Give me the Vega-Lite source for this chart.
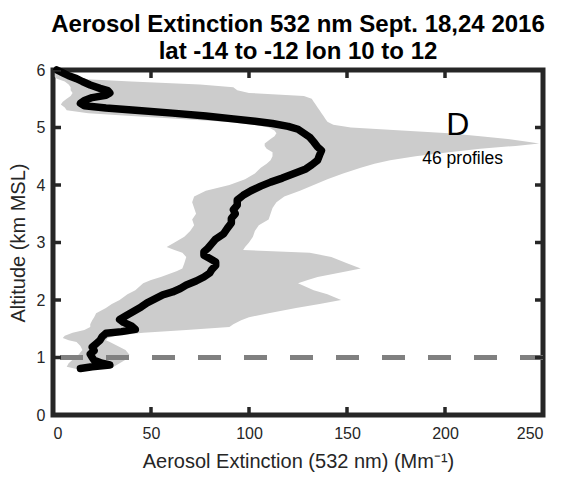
{
  "$schema": "https://vega.github.io/schema/vega-lite/v6.json",
  "width": 490,
  "height": 345,
  "autosize": "none",
  "padding": {"left": 53, "top": 70, "right": 19, "bottom": 65},
  "background": "white",
  "title": {
    "text": ["Aerosol Extinction 532 nm Sept. 18,24 2016", "lat -14 to -12 lon 10 to 12"],
    "font": "Liberation Sans",
    "fontSize": 24,
    "fontWeight": "bold",
    "color": "#000000",
    "lineHeight": 27,
    "offset": -2,
    "anchor": "middle"
  },
  "config": {
    "view": {"stroke": "#262626", "strokeWidth": 5},
    "axis": {
      "domain": false,
      "grid": false,
      "ticks": false,
      "labelFont": "Liberation Sans",
      "labelFontSize": 16,
      "labelColor": "#262626",
      "titleFont": "Liberation Sans",
      "titleFontSize": 20,
      "titleFontWeight": "normal",
      "titleColor": "#262626"
    }
  },
  "datasets": {
    "xticks": [{"v": 0}, {"v": 50}, {"v": 100}, {"v": 150}, {"v": 200}, {"v": 250}],
    "yticks": [{"v": 0}, {"v": 1}, {"v": 2}, {"v": 3}, {"v": 4}, {"v": 5}, {"v": 6}],
    "band": [
      {"alt": 6.00, "lo": 0, "hi": 5},
      {"alt": 5.95, "lo": 0, "hi": 7},
      {"alt": 5.90, "lo": 0, "hi": 9},
      {"alt": 5.85, "lo": 2, "hi": 12},
      {"alt": 5.80, "lo": 6, "hi": 40},
      {"alt": 5.75, "lo": 8, "hi": 75},
      {"alt": 5.70, "lo": 9, "hi": 92},
      {"alt": 5.65, "lo": 9, "hi": 94},
      {"alt": 5.60, "lo": 10, "hi": 100},
      {"alt": 5.55, "lo": 9, "hi": 128},
      {"alt": 5.50, "lo": 7, "hi": 132},
      {"alt": 5.45, "lo": 5, "hi": 133},
      {"alt": 5.40, "lo": 4, "hi": 134},
      {"alt": 5.35, "lo": 6, "hi": 135},
      {"alt": 5.30, "lo": 7, "hi": 136},
      {"alt": 5.25, "lo": 18, "hi": 137},
      {"alt": 5.20, "lo": 40, "hi": 138},
      {"alt": 5.15, "lo": 65, "hi": 139},
      {"alt": 5.10, "lo": 88, "hi": 140},
      {"alt": 5.05, "lo": 102, "hi": 143},
      {"alt": 5.00, "lo": 110, "hi": 152},
      {"alt": 4.95, "lo": 113, "hi": 178},
      {"alt": 4.90, "lo": 114, "hi": 202},
      {"alt": 4.85, "lo": 113, "hi": 218},
      {"alt": 4.80, "lo": 111, "hi": 232},
      {"alt": 4.75, "lo": 109, "hi": 243},
      {"alt": 4.72, "lo": 108, "hi": 248},
      {"alt": 4.68, "lo": 108, "hi": 236},
      {"alt": 4.63, "lo": 109, "hi": 218},
      {"alt": 4.57, "lo": 112, "hi": 202},
      {"alt": 4.50, "lo": 112, "hi": 185},
      {"alt": 4.43, "lo": 111, "hi": 172},
      {"alt": 4.37, "lo": 109, "hi": 164},
      {"alt": 4.30, "lo": 106, "hi": 157},
      {"alt": 4.20, "lo": 103, "hi": 148},
      {"alt": 4.10, "lo": 98, "hi": 140},
      {"alt": 4.00, "lo": 90, "hi": 133},
      {"alt": 3.90, "lo": 78, "hi": 126},
      {"alt": 3.80, "lo": 72, "hi": 118},
      {"alt": 3.70, "lo": 71, "hi": 114},
      {"alt": 3.60, "lo": 72, "hi": 112},
      {"alt": 3.50, "lo": 73, "hi": 111},
      {"alt": 3.40, "lo": 71, "hi": 110},
      {"alt": 3.30, "lo": 72, "hi": 105},
      {"alt": 3.20, "lo": 70, "hi": 103},
      {"alt": 3.10, "lo": 67, "hi": 102},
      {"alt": 3.00, "lo": 62, "hi": 100},
      {"alt": 2.92, "lo": 58, "hi": 98},
      {"alt": 2.87, "lo": 62, "hi": 97},
      {"alt": 2.82, "lo": 66, "hi": 131},
      {"alt": 2.75, "lo": 68, "hi": 142},
      {"alt": 2.64, "lo": 67, "hi": 150},
      {"alt": 2.55, "lo": 66, "hi": 157},
      {"alt": 2.50, "lo": 63, "hi": 150},
      {"alt": 2.40, "lo": 55, "hi": 135},
      {"alt": 2.35, "lo": 50, "hi": 130},
      {"alt": 2.29, "lo": 46, "hi": 125},
      {"alt": 2.17, "lo": 42, "hi": 133},
      {"alt": 2.10, "lo": 38, "hi": 140},
      {"alt": 2.00, "lo": 34, "hi": 147},
      {"alt": 1.93, "lo": 30, "hi": 136},
      {"alt": 1.86, "lo": 27, "hi": 124},
      {"alt": 1.77, "lo": 22, "hi": 110},
      {"alt": 1.70, "lo": 21, "hi": 100},
      {"alt": 1.65, "lo": 20, "hi": 96},
      {"alt": 1.58, "lo": 19, "hi": 92},
      {"alt": 1.53, "lo": 19, "hi": 90},
      {"alt": 1.48, "lo": 16, "hi": 68},
      {"alt": 1.43, "lo": 10, "hi": 46},
      {"alt": 1.38, "lo": 6, "hi": 32},
      {"alt": 1.34, "lo": 5, "hi": 28},
      {"alt": 1.30, "lo": 8, "hi": 27},
      {"alt": 1.27, "lo": 12, "hi": 29},
      {"alt": 1.20, "lo": 14, "hi": 33},
      {"alt": 1.13, "lo": 15, "hi": 37},
      {"alt": 1.05, "lo": 13, "hi": 39},
      {"alt": 0.96, "lo": 10, "hi": 37},
      {"alt": 0.90, "lo": 8, "hi": 34},
      {"alt": 0.84, "lo": 7, "hi": 31},
      {"alt": 0.80, "lo": 12, "hi": 25}
    ],
    "mean": [
      {"alt": 6.00, "ext": 2},
      {"alt": 5.95, "ext": 5},
      {"alt": 5.90, "ext": 8},
      {"alt": 5.85, "ext": 12},
      {"alt": 5.80, "ext": 15},
      {"alt": 5.74, "ext": 19},
      {"alt": 5.68, "ext": 24},
      {"alt": 5.64, "ext": 28},
      {"alt": 5.60, "ext": 29},
      {"alt": 5.56, "ext": 27},
      {"alt": 5.52, "ext": 20},
      {"alt": 5.47, "ext": 16},
      {"alt": 5.42, "ext": 14},
      {"alt": 5.38, "ext": 16},
      {"alt": 5.34, "ext": 27},
      {"alt": 5.30, "ext": 42},
      {"alt": 5.25, "ext": 61},
      {"alt": 5.20, "ext": 78},
      {"alt": 5.15, "ext": 92},
      {"alt": 5.11, "ext": 103},
      {"alt": 5.07, "ext": 112},
      {"alt": 5.02, "ext": 120},
      {"alt": 4.97, "ext": 125},
      {"alt": 4.90, "ext": 128},
      {"alt": 4.83, "ext": 131},
      {"alt": 4.75, "ext": 133},
      {"alt": 4.66, "ext": 135},
      {"alt": 4.60, "ext": 137},
      {"alt": 4.52, "ext": 136},
      {"alt": 4.43, "ext": 135},
      {"alt": 4.35, "ext": 132},
      {"alt": 4.28, "ext": 129},
      {"alt": 4.20, "ext": 123},
      {"alt": 4.12, "ext": 117},
      {"alt": 4.05, "ext": 111},
      {"alt": 3.98, "ext": 106},
      {"alt": 3.90, "ext": 101},
      {"alt": 3.82, "ext": 97},
      {"alt": 3.74, "ext": 94},
      {"alt": 3.65, "ext": 94},
      {"alt": 3.57, "ext": 92},
      {"alt": 3.50, "ext": 93},
      {"alt": 3.42, "ext": 91},
      {"alt": 3.34, "ext": 91},
      {"alt": 3.25, "ext": 89},
      {"alt": 3.15, "ext": 87},
      {"alt": 3.06, "ext": 83},
      {"alt": 2.98, "ext": 81},
      {"alt": 2.90, "ext": 79},
      {"alt": 2.84, "ext": 77},
      {"alt": 2.78, "ext": 77},
      {"alt": 2.72, "ext": 80},
      {"alt": 2.66, "ext": 83},
      {"alt": 2.60, "ext": 83},
      {"alt": 2.53, "ext": 81},
      {"alt": 2.47, "ext": 80},
      {"alt": 2.40, "ext": 77},
      {"alt": 2.33, "ext": 73},
      {"alt": 2.26, "ext": 68},
      {"alt": 2.20, "ext": 65},
      {"alt": 2.14, "ext": 61},
      {"alt": 2.09, "ext": 56},
      {"alt": 2.02, "ext": 52},
      {"alt": 1.95, "ext": 48},
      {"alt": 1.88, "ext": 45},
      {"alt": 1.80, "ext": 41},
      {"alt": 1.72, "ext": 37},
      {"alt": 1.66, "ext": 34},
      {"alt": 1.61, "ext": 36},
      {"alt": 1.55, "ext": 40},
      {"alt": 1.49, "ext": 42},
      {"alt": 1.45, "ext": 35},
      {"alt": 1.42, "ext": 27},
      {"alt": 1.36, "ext": 25},
      {"alt": 1.30, "ext": 24},
      {"alt": 1.24, "ext": 22},
      {"alt": 1.18, "ext": 20},
      {"alt": 1.12, "ext": 21},
      {"alt": 1.06, "ext": 19},
      {"alt": 1.00, "ext": 20},
      {"alt": 0.95, "ext": 21},
      {"alt": 0.90, "ext": 25},
      {"alt": 0.87, "ext": 29},
      {"alt": 0.84, "ext": 20},
      {"alt": 0.81, "ext": 14}
    ]
  },
  "layer": [
    {
      "data": {"name": "band"},
      "mark": {"type": "area", "orient": "horizontal", "color": "#cccccc"},
      "encoding": {
        "y": {
          "field": "alt", "type": "quantitative",
          "scale": {"domain": [0, 6], "nice": false},
          "axis": {"orient": "left", "values": [0, 1, 2, 3, 4, 5, 6], "format": "d", "title": "Altitude (km MSL)", "labelPadding": 8, "titlePadding": 8}
        },
        "x": {
          "field": "lo", "type": "quantitative",
          "scale": {"domain": [0, 250], "nice": false},
          "axis": {"orient": "bottom", "values": [0, 50, 100, 150, 200, 250], "format": "d", "title": "Aerosol Extinction (532 nm) (Mm⁻¹)", "labelPadding": 10, "titlePadding": 10}
        },
        "x2": {"field": "hi"}
      }
    },
    {
      "data": {"values": [{"alt": 1}]},
      "mark": {"type": "rule", "color": "#808080", "strokeWidth": 5, "strokeDash": [23, 23]},
      "encoding": {
        "y": {"field": "alt", "type": "quantitative"}
      }
    },
    {
      "data": {"name": "mean"},
      "mark": {"type": "line", "color": "#000000", "strokeWidth": 7.5, "strokeJoin": "round", "strokeCap": "round"},
      "encoding": {
        "x": {"field": "ext", "type": "quantitative"},
        "y": {"field": "alt", "type": "quantitative"},
        "order": {"field": "alt", "type": "quantitative"}
      }
    },
    {
      "data": {"name": "xticks"},
      "mark": {"type": "tick", "orient": "vertical", "size": 16, "thickness": 3.5, "color": "#262626", "opacity": 1, "clip": true},
      "encoding": {
        "x": {"field": "v", "type": "quantitative"},
        "y": {"datum": 0, "type": "quantitative"}
      }
    },
    {
      "data": {"name": "xticks"},
      "mark": {"type": "tick", "orient": "vertical", "size": 16, "thickness": 3.5, "color": "#262626", "opacity": 1, "clip": true},
      "encoding": {
        "x": {"field": "v", "type": "quantitative"},
        "y": {"datum": 6, "type": "quantitative"}
      }
    },
    {
      "data": {"name": "yticks"},
      "mark": {"type": "tick", "orient": "horizontal", "size": 16, "thickness": 3.5, "color": "#262626", "opacity": 1, "clip": true},
      "encoding": {
        "y": {"field": "v", "type": "quantitative"},
        "x": {"datum": 0, "type": "quantitative"}
      }
    },
    {
      "data": {"name": "yticks"},
      "mark": {"type": "tick", "orient": "horizontal", "size": 16, "thickness": 3.5, "color": "#262626", "opacity": 1, "clip": true},
      "encoding": {
        "y": {"field": "v", "type": "quantitative"},
        "x": {"datum": 250, "type": "quantitative"}
      }
    },
    {
      "data": {"values": [{"ext": 206.5, "alt": 5.04, "label": "D"}]},
      "mark": {"type": "text", "font": "Liberation Sans", "fontSize": 32, "color": "#000000", "baseline": "middle", "align": "center"},
      "encoding": {
        "x": {"field": "ext", "type": "quantitative"},
        "y": {"field": "alt", "type": "quantitative"},
        "text": {"field": "label"}
      }
    },
    {
      "data": {"values": [{"ext": 209, "alt": 4.45, "label": "46 profiles"}]},
      "mark": {"type": "text", "font": "Liberation Sans", "fontSize": 17.5, "color": "#000000", "baseline": "middle", "align": "center"},
      "encoding": {
        "x": {"field": "ext", "type": "quantitative"},
        "y": {"field": "alt", "type": "quantitative"},
        "text": {"field": "label"}
      }
    }
  ]
}
